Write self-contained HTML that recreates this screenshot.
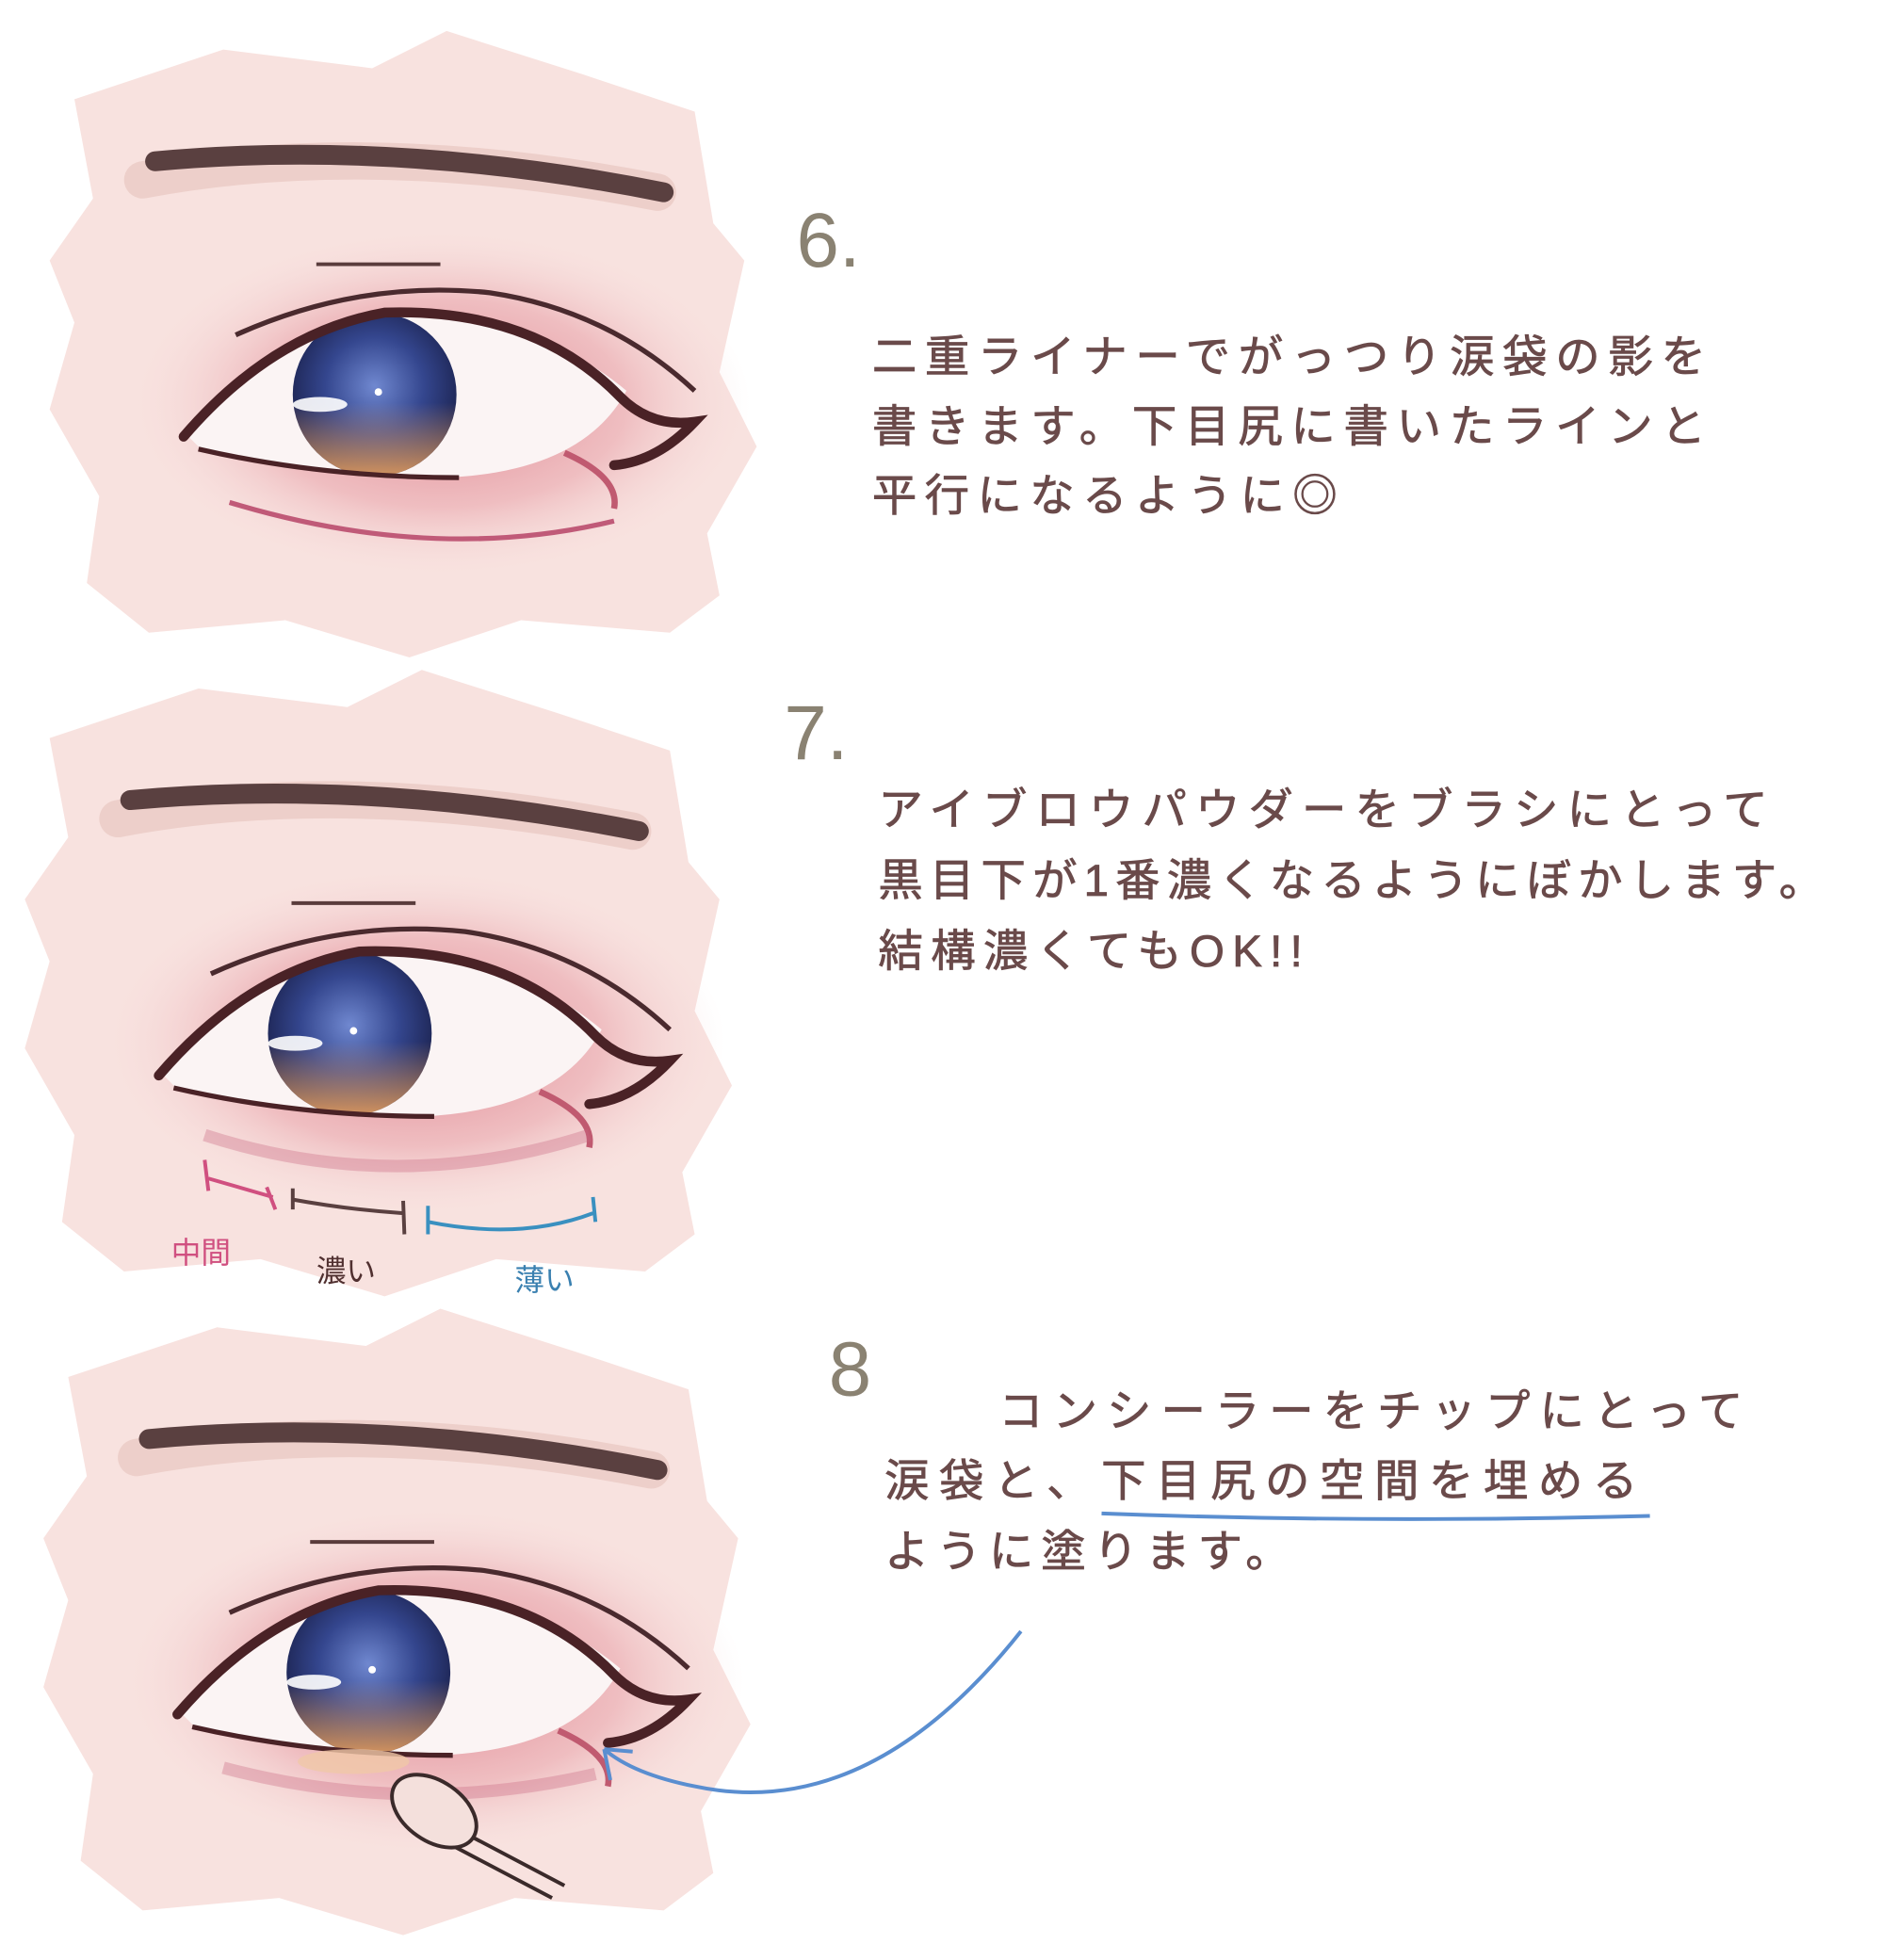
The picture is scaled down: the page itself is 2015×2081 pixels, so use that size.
<!DOCTYPE html>
<html><head><meta charset="utf-8"><style>
html,body{margin:0;padding:0;background:#fff;}
svg{display:block;}
.t{font-family:"Liberation Sans","Noto Sans CJK JP",sans-serif;fill:#6a4a4a;font-size:36px;stroke:#6a4a4a;stroke-width:0.6;}
.n{font-family:"Liberation Sans","Noto Sans CJK JP",sans-serif;fill:#8a8272;font-size:62px;font-weight:300;}
</style></head><body>
<svg width="2015" height="2081" viewBox="0 0 1530 1580" preserveAspectRatio="none" xmlns="http://www.w3.org/2000/svg">
<defs>
<radialGradient id="sh" cx="0.5" cy="0.5" r="0.5">
<stop offset="0" stop-color="#d8707f" stop-opacity="0.85"/>
<stop offset="0.6" stop-color="#e8a0a8" stop-opacity="0.55"/>
<stop offset="1" stop-color="#f6dcdc" stop-opacity="0"/>
</radialGradient>
<radialGradient id="ir" cx="0.5" cy="0.45" r="0.55">
<stop offset="0" stop-color="#7088d0"/>
<stop offset="0.55" stop-color="#34468e"/>
<stop offset="1" stop-color="#1c2350"/>
</radialGradient>
<linearGradient id="irb" x1="0" y1="0" x2="0" y2="1">
<stop offset="0.55" stop-color="#e0a070" stop-opacity="0"/>
<stop offset="1" stop-color="#e8a060" stop-opacity="0.9"/>
</linearGradient>
<g id="base">
<path d="M60,80 L180,40 L300,55 L360,25 L470,60 L560,90 L575,180 L600,210 L580,300 L610,360 L570,430 L580,480 L540,510 L420,500 L330,530 L230,500 L120,510 L70,470 L80,400 L40,330 L60,260 L40,210 L75,160 Z" fill="#f8e2df"/>
<ellipse cx="355" cy="325" rx="250" ry="140" fill="url(#sh)"/>
<path d="M115,145 Q300,110 530,155" stroke="#e8c8c0" stroke-width="30" fill="none" stroke-linecap="round" opacity="0.7"/>
<path d="M125,130 Q320,112 535,155" stroke="#5a4040" stroke-width="16" fill="none" stroke-linecap="round"/>
<path d="M255,213 L355,213" stroke="#5a3c3c" stroke-width="3"/>
<path d="M190,270 Q290,225 395,236 Q490,250 560,315" stroke="#4a2a2e" stroke-width="4" fill="none"/>
<path d="M150,350 Q230,262 310,255 Q430,252 505,315 Q470,380 360,385 Q240,385 160,360 Z" fill="#fbf4f4"/>
<circle cx="302" cy="318" r="66" fill="url(#ir)"/>
<circle cx="302" cy="318" r="66" fill="url(#irb)"/>
<ellipse cx="258" cy="326" rx="22" ry="6" fill="#fff" opacity="0.9"/>
<circle cx="305" cy="316" r="3" fill="#fff"/>
<path d="M148,352 Q220,268 310,252 Q430,248 500,320 Q525,345 560,340 Q530,372 495,375" stroke="#4a2226" stroke-width="8" fill="none" stroke-linecap="round"/>
<path d="M160,362 Q260,385 370,385" stroke="#4a2226" stroke-width="4" fill="none"/>
<path d="M455,365 Q500,385 495,410" stroke="#c05a70" stroke-width="5" fill="none"/>
</g>
</defs>
<rect width="1530" height="1580" fill="#fff"/>
<use href="#base"/>
<path d="M185,405 Q350,455 495,420" stroke="#c05a78" stroke-width="4" fill="none"/>
<use href="#base" transform="translate(-20,515)"/>
<path d="M165,915 Q320,965 475,915" stroke="#c86880" stroke-width="10" fill="none" opacity="0.35"/>
<use href="#base" transform="translate(-5,1030)"/>
<path d="M180,1425 Q330,1465 480,1430" stroke="#c86880" stroke-width="10" fill="none" opacity="0.35"/>

<g fill="none" stroke-width="3">
<path d="M165,935 L168,960 M168,950 L220,965 M215,957 L222,975" stroke="#d05080"/>
<path d="M236,958 L236,975 M236,967 Q280,975 325,978 M325,968 L326,995" stroke="#5a4040"/>
<path d="M345,972 L345,995 M345,985 Q420,1000 478,978 M478,965 L480,985" stroke="#3a90c0"/>
</g>
<text x="138" y="1018" font-size="24" fill="#d05080" font-family="Liberation Sans,Noto Sans CJK JP,sans-serif">中間</text>
<text x="255" y="1033" font-size="24" fill="#503030" font-family="Liberation Sans,Noto Sans CJK JP,sans-serif">濃い</text>
<text x="415" y="1040" font-size="24" fill="#3a80b0" font-family="Liberation Sans,Noto Sans CJK JP,sans-serif">薄い</text>

<ellipse cx="285" cy="1420" rx="45" ry="10" fill="#f0c8a8" opacity="0.8"/>
<path d="M360,1470 L455,1520 M350,1480 L445,1530" stroke="#3a2a2a" stroke-width="3"/>
<ellipse cx="350" cy="1460" rx="38" ry="24" transform="rotate(35 350 1460)" fill="#f4e0dc" stroke="#3a2a2a" stroke-width="3"/>

<text class="n" x="642" y="215">6.</text>
<text class="n" x="632" y="612">7.</text>
<text class="n" x="668" y="1125">8</text>

<text class="t" x="703" y="300" textLength="672">二重ライナーでがっつり涙袋の影を</text>
<text class="t" x="703" y="356" textLength="672">書きます。下目尻に書いたラインと</text>
<text class="t" x="703" y="412" textLength="375">平行になるように◎</text>

<text class="t" x="708" y="665" textLength="717">アイブロウパウダーをブラシにとって</text>
<text class="t" x="708" y="722" textLength="762">黒目下が1番濃くなるようにぼかします。</text>
<text class="t" x="708" y="779" textLength="342">結構濃くてもOK!!</text>

<text class="t" x="805" y="1150" textLength="600">コンシーラーをチップにとって</text>
<text class="t" x="713" y="1206" textLength="607">涙袋と、下目尻の空間を埋める</text>
<text class="t" x="713" y="1263" textLength="327">ように塗ります。</text>

<path d="M888,1220 Q1100,1228 1330,1222" stroke="#5a8ed0" stroke-width="3" fill="none"/>
<path d="M823,1315 Q700,1470 560,1440 Q510,1430 487,1410" stroke="#5a8ed0" stroke-width="3" fill="none"/>
<path d="M487,1410 L510,1412 M487,1410 L492,1435" stroke="#5a8ed0" stroke-width="3" fill="none"/>
</svg>
</body></html>
